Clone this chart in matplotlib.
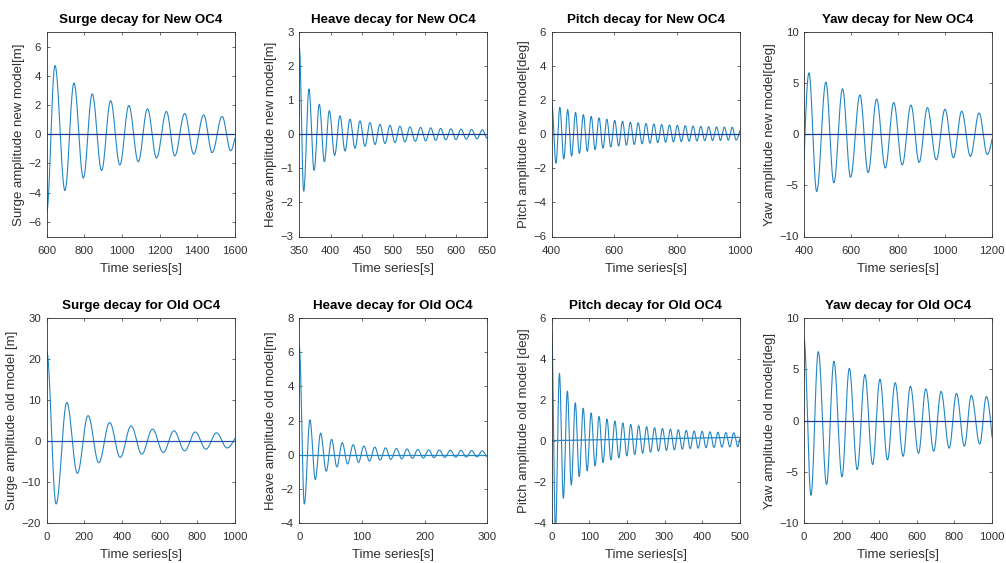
import numpy as np
import matplotlib
matplotlib.use("Agg")
import matplotlib.pyplot as plt

plt.rcParams["font.family"] = ["Liberation Sans", "DejaVu Sans"]

# ---- Decay records: turning points (time [s], amplitude) of each response ----
surge_new_t = [600, 644, 697, 745, 795, 842, 892, 940, 989, 1037, 1087, 1136,
               1184, 1237, 1281, 1334, 1382, 1435, 1480, 1533, 1579, 1600]
surge_new_y = [-5.3, 4.7, -3.85, 3.5, -3.0, 2.76, -2.48, 2.3, -2.1, 1.97, -1.88, 1.74,
               -1.62, 1.56, -1.48, 1.42, -1.36, 1.32, -1.25, 1.22, -1.13, -0.3]

heave_new_t = [350, 357, 365.4, 373.6, 381.9, 390, 397.9, 406.4, 414.9, 422.9,
               430.9, 438.9, 446.8, 454.8, 462.8, 470.8, 478.7, 486.7, 494.7,
               502.7, 510.6, 518.6, 526.6, 535, 543.6, 551.6, 559.6, 567.6, 575.5,
               583.8, 592, 600, 608, 616.5, 625, 633.5, 642, 650]
heave_new_y = [2.55, -1.67, 1.32, -1.06, 0.88, -0.8, 0.69, -0.62, 0.54, -0.49,
               0.44, -0.41, 0.39, -0.35, 0.34, -0.3, 0.29, -0.27, 0.26,
               -0.245, 0.235, -0.225, 0.215, -0.205, 0.2, -0.195, 0.19, -0.18, 0.17,
               -0.165, 0.16, -0.155, 0.15, -0.145, 0.14, -0.135, 0.13, -0.12]

pitch_new_t = [400, 413.5, 426, 438.5, 451, 463.5, 476, 488.5, 501, 513.5, 526,
               538.5, 551, 563.5, 576, 588.5, 601, 613.5, 626, 638.5, 651, 663.5,
               676, 688.5, 701, 713.5, 726, 738.5, 751, 763.5, 776, 788.5, 801,
               813.5, 826, 838.5, 851, 863.5, 876, 888.5, 901, 913.5, 926, 938.5,
               951, 963.5, 976, 988.5, 1000]
pitch_new_y = [1.9, -1.7, 1.58, -1.45, 1.42, -1.28, 1.28, -1.12, 1.15, -1.0, 1.05,
               -0.9, 0.96, -0.82, 0.88, -0.75, 0.82, -0.69, 0.76, -0.64, 0.71, -0.6,
               0.67, -0.56, 0.63, -0.52, 0.6, -0.49, 0.57, -0.47, 0.54, -0.45, 0.52,
               -0.43, 0.5, -0.41, 0.48, -0.39, 0.46, -0.38, 0.44, -0.37, 0.43, -0.36,
               0.42, -0.35, 0.41, -0.34, 0.2]

yaw_new_t = [400, 421, 454, 493, 527, 564, 598, 638, 673, 709, 746, 782, 818,
             855, 890, 925, 963, 1000, 1036, 1071, 1108, 1145, 1180, 1200]
yaw_new_y = [-2.6, 6.0, -5.6, 5.1, -4.75, 4.45, -4.2, 3.85, -3.75, 3.45, -3.3, 3.1,
             -3.0, 2.85, -2.75, 2.6, -2.5, 2.45, -2.3, 2.25, -2.15, 2.07, -1.97, -0.5]

surge_old_t = [0, 50, 107, 163, 220, 277, 335, 391, 449, 506, 563, 620, 677,
               734, 790, 847, 903, 960, 1000]
surge_old_y = [22.0, -15.4, 9.4, -7.9, 6.2, -5.3, 4.5, -4.0, 3.7, -3.2, 2.9, -2.8,
               2.5, -2.4, 2.2, -2.0, 2.0, -1.7, 0.6]

heave_old_t = [0, 8, 17, 25.5, 34, 43, 51.5, 60, 68.5, 77, 86, 94.5, 103, 112,
               120.5, 129, 137.5, 146, 155, 163.5, 172, 180.5, 189, 198, 206.5,
               215, 223.5, 232, 241, 249.5, 258, 266.5, 275, 283.5, 292, 300]
heave_old_y = [6.3, -2.9, 2.04, -1.46, 1.26, -0.97, 0.9, -0.72, 0.7, -0.55, 0.58,
               -0.45, 0.5, -0.38, 0.44, -0.32, 0.4, -0.28, 0.36, -0.25, 0.33,
               -0.22, 0.3, -0.2, 0.28, -0.18, 0.27, -0.16, 0.26, -0.15, 0.25,
               -0.14, 0.24, -0.13, 0.23, -0.12]

pitch_old_t = [0, 10, 20.5, 31, 41.6, 52.1, 62.7, 73.2, 83.8, 94.3, 104.8, 115.4,
               125.9, 136.5, 147, 157.5, 168.1, 178.6, 189.2, 199.7, 210.2, 220.8,
               231.3, 241.9, 252.4, 262.9, 273.5, 284, 294.6, 305.1, 315.6, 326.2,
               336.7, 347.3, 357.8, 368.3, 378.9, 389.4, 400, 410.5, 421, 431.6,
               442.1, 452.7, 463.2, 473.7, 484.3, 494.8, 500]
pitch_old_y = [5.3, -4.4, 3.3, -2.8, 2.44, -2.15, 1.87, -1.74, 1.6, -1.45, 1.37,
               -1.22, 1.2, -1.05, 1.07, -0.92, 0.97, -0.82, 0.88, -0.73, 0.81, -0.66,
               0.75, -0.6, 0.7, -0.55, 0.65, -0.5, 0.61, -0.46, 0.58, -0.43, 0.55,
               -0.4, 0.52, -0.37, 0.49, -0.35, 0.47, -0.33, 0.45, -0.31, 0.43, -0.3,
               0.41, -0.29, 0.4, -0.28, 0.1]
pitch_old_mean = [0.02, 0.18]   # mean line at start / end of record

yaw_old_t = [0, 37, 76, 120, 159, 202, 241, 283, 324, 365, 404, 444, 485, 527,
             566, 609, 648, 690, 729, 772, 811, 853, 890, 935, 970, 1000]
yaw_old_y = [8.0, -7.3, 6.74, -6.25, 5.8, -5.5, 5.1, -4.8, 4.5, -4.3, 4.05, -3.85,
             3.7, -3.5, 3.35, -3.2, 3.1, -3.0, 2.85, -2.7, 2.65, -2.5, 2.45, -2.3,
             2.35, -1.6]

CURVE = "#2386c4"
NAVY = "#1b3a94"
TXT = "#303030"


def decay_curve(t, y, start_turn=True, end_turn=False, n=40):
    """Smooth oscillation through successive turning points (half-cosine arcs)."""
    xs, ys = [], []
    last = len(t) - 2
    for i in range(len(t) - 1):
        s = np.linspace(0.0, 1.0, n)
        if i == 0 and not start_turn:
            w = np.sin(0.5 * np.pi * s)
        elif i == last and not end_turn:
            w = 1.0 - np.cos(0.5 * np.pi * s)
        else:
            w = 0.5 * (1.0 - np.cos(np.pi * s))
        xs.append(t[i] + (t[i + 1] - t[i]) * s)
        ys.append(y[i] + (y[i + 1] - y[i]) * w)
    return np.concatenate(xs), np.concatenate(ys)


panels = [
    dict(t=surge_new_t, y=surge_new_y, xl=(600, 1600), xt=range(600, 1601, 200),
         yl=(-7, 7), yt=range(-6, 7, 2), title="Surge decay for New OC4",
         ylabel="Surge amplitude new model[m]", start_turn=True, end_turn=False,
         mean=(0, 0), mc=NAVY),
    dict(t=heave_new_t, y=heave_new_y, xl=(350, 650), xt=range(350, 651, 50),
         yl=(-3, 3), yt=range(-3, 4, 1), title="Heave decay for New OC4",
         ylabel="Heave amplitude new model[m]", start_turn=True, end_turn=True,
         mean=(0, 0), mc=NAVY),
    dict(t=pitch_new_t, y=pitch_new_y, xl=(400, 1000), xt=range(400, 1001, 200),
         yl=(-6, 6), yt=range(-6, 7, 2), title="Pitch decay for New OC4",
         ylabel="Pitch amplitude new model[deg]", start_turn=True, end_turn=False,
         mean=(0, 0), mc=NAVY),
    dict(t=yaw_new_t, y=yaw_new_y, xl=(400, 1200), xt=range(400, 1201, 200),
         yl=(-10, 10), yt=range(-10, 11, 5), title="Yaw decay for New OC4",
         ylabel="Yaw amplitude new model[deg]", start_turn=False, end_turn=False,
         mean=(0, 0), mc=NAVY),
    dict(t=surge_old_t, y=surge_old_y, xl=(0, 1000), xt=range(0, 1001, 200),
         yl=(-20, 30), yt=range(-20, 31, 10), title="Surge decay for Old OC4",
         ylabel="Surge amplitude old model [m]", start_turn=True, end_turn=False,
         mean=(0, 0), mc="#2a55b0"),
    dict(t=heave_old_t, y=heave_old_y, xl=(0, 300), xt=range(0, 301, 100),
         yl=(-4, 8), yt=range(-4, 9, 2), title="Heave decay for Old OC4",
         ylabel="Heave amplitude old model[m]", start_turn=True, end_turn=True,
         mean=(0, 0), mc=CURVE),
    dict(t=pitch_old_t, y=pitch_old_y, xl=(0, 500), xt=range(0, 501, 100),
         yl=(-4, 6), yt=range(-4, 7, 2), title="Pitch decay for Old OC4",
         ylabel="Pitch amplitude old model [deg]", start_turn=True, end_turn=False,
         mean=tuple(pitch_old_mean), mc=CURVE),
    dict(t=yaw_old_t, y=yaw_old_y, xl=(0, 1000), xt=range(0, 1001, 200),
         yl=(-10, 10), yt=range(-10, 11, 5), title="Yaw decay for Old OC4",
         ylabel="Yaw amplitude old model[deg]", start_turn=True, end_turn=False,
         mean=(0, 0), mc=NAVY),
]

W, H = 1006, 563
fig = plt.figure(figsize=(W / 100, H / 100), dpi=100)

lefts = [46.7, 299.3, 551.7, 804.0]
tops = [32.0, 318.3]
aw, ah = 188.0, 204.5

for k, p in enumerate(panels):
    row, col = divmod(k, 4)
    ax = fig.add_axes([lefts[col] / W, 1 - (tops[row] + ah) / H, aw / W, ah / H])
    xs, ys = decay_curve(p["t"], p["y"], p["start_turn"], p["end_turn"])
    ax.plot(xs, ys, color=CURVE, lw=0.8, solid_joinstyle="round", clip_on=True)
    ax.plot(list(p["xl"]), list(p["mean"]), color=p["mc"], lw=0.9)
    ax.set_xlim(*p["xl"])
    ax.set_ylim(*p["yl"])
    ax.set_xticks(list(p["xt"]))
    ax.set_yticks(list(p["yt"]))
    ax.tick_params(direction="in", length=2.5, width=0.5, top=True, right=True,
                   labelsize=8.2, colors=TXT)
    ax.tick_params(axis="x", pad=6.5)
    ax.tick_params(axis="y", pad=4)
    for sp in ax.spines.values():
        sp.set_linewidth(0.6)
        sp.set_color(TXT)
    ax.set_title(p["title"], fontsize=9.6, fontweight="bold", color="black", pad=6.5)
    ax.set_xlabel("Time series[s]", fontsize=9.5, color=TXT, labelpad=5.5)
    ax.set_ylabel(p["ylabel"], fontsize=9.5, color=TXT, labelpad=2.5)

fig.savefig("out.png", dpi=100, facecolor="white")
